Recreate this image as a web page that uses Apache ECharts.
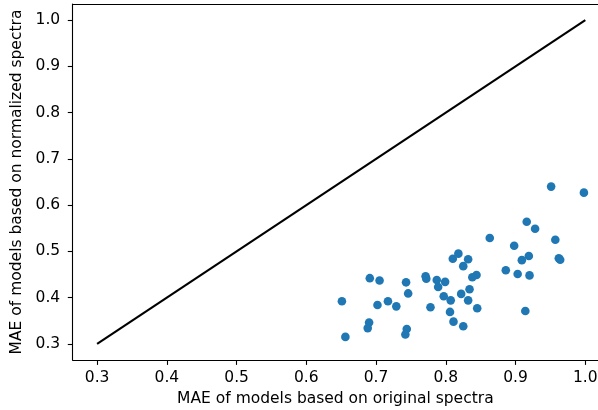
<!DOCTYPE html>
<html>
<head>
<meta charset="utf-8">
<script src="https://cdn.jsdelivr.net/npm/echarts@6/dist/echarts.min.js"></script>
<style>html,body{margin:0;padding:0;background:#fff}#c{width:598px;height:410px}</style>
</head>
<body>
<div id="c"></div>
<script>
const xTicks = [0.3, 0.4, 0.5, 0.6, 0.7, 0.8, 0.9, 1.0];
const yTicks = [0.3, 0.4, 0.5, 0.6, 0.7, 0.8, 0.9, 1.0];
const identityX = [0.3, 1.0];
const identityY = [0.3, 1.0];
const origMAE = [0.951, 0.998, 0.916, 0.928, 0.863, 0.957, 0.898, 0.818, 0.810, 0.832,
  0.919, 0.909, 0.962, 0.964, 0.825, 0.886, 0.903, 0.920, 0.844, 0.838,
  0.771, 0.772, 0.787, 0.799, 0.789, 0.691, 0.705, 0.743, 0.746, 0.834,
  0.822, 0.797, 0.807, 0.832, 0.651, 0.717, 0.702, 0.729, 0.778, 0.845,
  0.914, 0.806, 0.811, 0.825, 0.690, 0.688, 0.744, 0.742, 0.656];
const normMAE = [0.640, 0.627, 0.564, 0.549, 0.529, 0.525, 0.512, 0.495, 0.484, 0.483,
  0.490, 0.481, 0.485, 0.482, 0.468, 0.459, 0.451, 0.448, 0.449, 0.444,
  0.446, 0.441, 0.438, 0.434, 0.423, 0.442, 0.437, 0.433, 0.409, 0.418,
  0.408, 0.403, 0.394, 0.394, 0.392, 0.392, 0.384, 0.381, 0.379, 0.377,
  0.371, 0.369, 0.348, 0.338, 0.346, 0.334, 0.332, 0.320, 0.315];

const font = 'DejaVu Sans';
const fs = 15.5;
const chart = echarts.init(document.getElementById('c'), null, {renderer: 'canvas'});
chart.setOption({
  animation: false,
  grid: {left: 72.7, right: 0, top: 4, bottom: 50, containLabel: false, outerBoundsMode: 'none'},
  xAxis: [{
    type: 'value', min: 0.265, max: 1.0182, position: 'bottom',
    name: 'MAE of models based on original spectra', nameLocation: 'middle', nameGap: 30,
    nameTextStyle: {fontFamily: font, fontSize: fs, color: '#000'},
    axisLine: {show: true, onZero: false, lineStyle: {color: '#000', width: 1.1}},
    axisTick: {show: true, length: 4.9, lineStyle: {color: '#000', width: 1.1}, customValues: xTicks},
    axisLabel: {fontFamily: font, fontSize: fs, color: '#000', margin: 10, customValues: xTicks, formatter: v => v.toFixed(1)},
    splitLine: {show: false}
  }, {
    type: 'value', min: 0.265, max: 1.0182, position: 'top',
    axisLine: {show: true, onZero: false, lineStyle: {color: '#000', width: 1.1}},
    axisTick: {show: false}, axisLabel: {show: false}, splitLine: {show: false}
  }],
  yAxis: {
    type: 'value', min: 0.265, max: 1.035,
    name: 'MAE of models based on normalized spectra', nameLocation: 'middle', nameGap: 42,
    nameTextStyle: {fontFamily: font, fontSize: fs, color: '#000'},
    axisLine: {show: true, onZero: false, lineStyle: {color: '#000', width: 1.1}},
    axisTick: {show: true, length: 4.9, lineStyle: {color: '#000', width: 1.1}, customValues: yTicks},
    axisLabel: {fontFamily: font, fontSize: fs, color: '#000', margin: 12.5, customValues: yTicks, formatter: v => v.toFixed(1)},
    splitLine: {show: false}
  },
  series: [
    {
      type: 'line', data: identityX.map((x, i) => [x, identityY[i]]),
      showSymbol: false, symbol: 'none', lineStyle: {color: '#000', width: 2.1}, z: 2
    },
    {
      type: 'scatter', data: origMAE.map((x, i) => [x, normMAE[i]]),
      symbolSize: 8.6, itemStyle: {color: '#1f77b4', opacity: 1}, z: 3
    }
  ]
});
</script>
</body>
</html>
